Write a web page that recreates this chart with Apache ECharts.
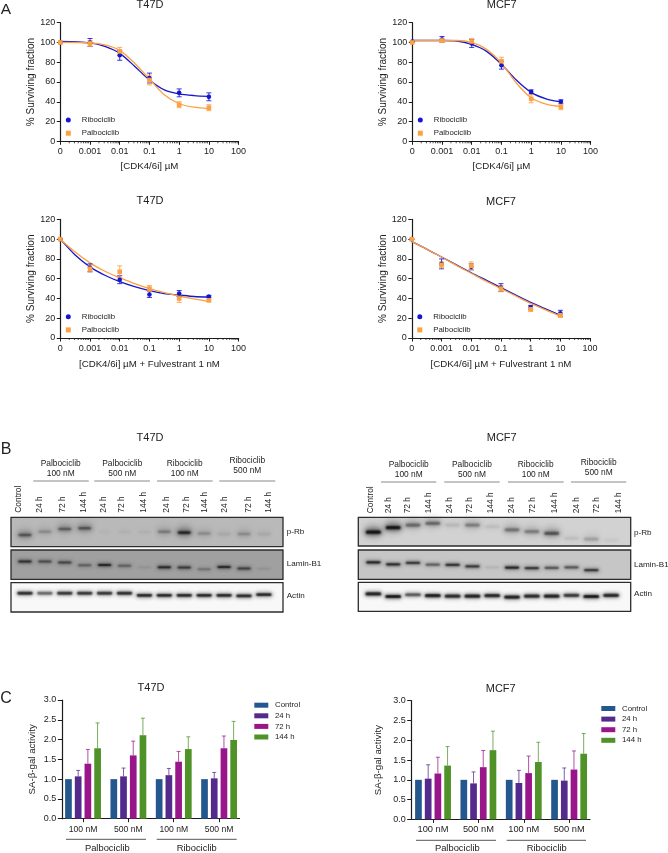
<!DOCTYPE html>
<html><head><meta charset="utf-8">
<style>html,body{margin:0;padding:0;background:#fff}#c{width:668px;height:853px}</style>
<script src="https://cdn.jsdelivr.net/npm/echarts@6/dist/echarts.min.js"></script>
</head><body><div id="c"></div>
<script>
// ---------- Panel A data ----------
const doseTicks = ["0","0.001","0.01","0.1","1","10","100"];
const pointDoses = [0.0001,0.001,0.01,0.1,1,10];
const fitDosesA = [0.0001,0.001,0.00316,0.01,0.0316,0.1,0.316,1,3.16,10];
const fitDosesF = [0.0001,0.000316,0.001,0.00316,0.01,0.0316,0.1,0.316,1,3.16,10];

const t47dRiboMean = [100,100,87,64,49,45];
const t47dRiboErr  = [0,4,5,5,4,4];
const t47dPalboMean= [100,99,91,62,37,34];
const t47dPalboErr = [0,3,4,5,3,3];
const t47dRiboFit  = [101,99.5,96,89,76,62,52,48,46.3,45.5];
const t47dPalboFit = [100,99.5,97.5,92,79,63,47,38,34.5,33];

const mcf7RiboMean = [101,103,99,77,50,40];
const mcf7RiboErr  = [0,3,4,4,2,2];
const mcf7PalboMean= [100,102,101,81,43,35];
const mcf7PalboErr = [0,2,3,4,4,3];
const mcf7RiboFit  = [102,102,101.5,98,91,78,62,49.5,43,40];
const mcf7PalboFit = [102,102,102,100,93,79,59,44,37.5,35];

const t47dFulvRiboMean = [100,71,59,44,45,42];
const t47dFulvRiboErr  = [0,4,4,3,3,1];
const t47dFulvPalboMean= [100,70,67,50,40,38];
const t47dFulvPalboErr = [0,3,6,3,4,1];
const t47dFulvRiboFit  = [100,84,72,63.5,57,52,48,45,43.5,42,41.5];
const t47dFulvPalboFit = [100,87,76,67.5,61,55,50,46,42.5,39.5,37];

const mcf7FulvRiboMean = [100,75,72,51,31,25];
const mcf7FulvRiboErr  = [0,5,3,4,2,3];
const mcf7FulvPalboMean= [100,74,73,50,29,23];
const mcf7FulvPalboErr = [0,3,4,3,2,2];
const mcf7FulvRiboFit  = [97.5,90,82,74,66,58.5,51,43.5,36,29.5,23];
const mcf7FulvPalboFit = [97.5,90,82,73.5,65.5,57.5,50,42.5,35,28.5,22];

// ---------- Panel B data: band darkness and vertical level per lane ----------
const laneLabels = ["Control","24 h","72 h","144 h","24 h","72 h","144 h","24 h","72 h","144 h","24 h","72 h","144 h"];
const lBlotPrbDark  = [.5,.2,.45,.5,.02,.03,.03,.28,.8,.2,.07,.2,.07];
const lBlotPrbLevel = [.40,.51,.60,.63,.5,.5,.5,.51,.48,.45,.43,.43,.43];
const lBlotLamDark  = [.88,.62,.68,.45,.97,.45,.08,.92,.78,.3,.92,.72,.08];
const lBlotLamLevel = [.61,.61,.57,.48,.49,.46,.41,.41,.40,.34,.42,.37,.36];
const lBlotActDark  = [.85,.55,.8,.8,.8,.85,.9,.9,.9,.9,.9,.9,.9];
const lBlotActLevel = [.64,.64,.64,.64,.64,.64,.57,.57,.57,.57,.57,.55,.59];
const rBlotPrbDark  = [.95,.9,.4,.4,.08,.3,.06,.35,.3,.5,.06,.16,.03];
const rBlotPrbLevel = [.48,.64,.73,.79,.73,.73,.67,.56,.5,.44,.27,.24,.2];
const rBlotLamDark  = [.95,.9,.8,.55,.85,.8,.08,.95,.8,.6,.6,.8,0];
const rBlotLamLevel = [.58,.51,.56,.5,.49,.44,.41,.4,.38,.39,.41,.31,.32];
const rBlotActDark  = [.9,.95,.6,.9,.85,.9,.85,.9,.85,.9,.75,.95,.85];
const rBlotActLevel = [.6,.51,.57,.54,.52,.52,.54,.49,.52,.52,.55,.51,.55];

// ---------- Panel C data ----------
const groupLabels = ["100 nM","500 nM","100 nM","500 nM"];
const timeLabels = ["Control","24 h","72 h","144 h"];
const tControl = [1,1,1,1];
const t24 = [1.07,1.07,1.10,1.02];
const t72 = [1.39,1.60,1.44,1.78];
const t144= [1.78,2.11,1.76,1.99];
const t24Top = [1.22,1.28,1.27,1.17];
const t72Top = [1.75,1.96,1.70,2.09];
const t144Top= [2.42,2.54,2.07,2.46];
const mControl = [1,1,1,1];
const m24 = [1.03,0.91,0.92,0.98];
const m72 = [1.16,1.32,1.17,1.26];
const m144= [1.36,1.75,1.45,1.66];
const m24Top = [1.38,1.20,1.24,1.30];
const m72Top = [1.57,1.74,1.60,1.73];
const m144Top= [1.84,2.23,1.95,2.17];

// ---------- Styling ----------
const FONT = '"Liberation Sans",Arial,sans-serif';
const BLUE = '#1616cf', ORANGE = '#fba144', INK = '#1c1c1c';
const TIME_COLORS = ['#25578f','#542a8c','#99168a','#4f9228'];

const grids=[], xAxes=[], yAxes=[], series=[], legends=[], graphics=[];
function text(x,y,t,size,extra){
  graphics.push(Object.assign({type:'text',x,y,silent:true,
    style:{text:t,font:size+'px '+FONT,fill:'#222',textAlign:'center',textVerticalAlign:'middle'}},extra||{}));
}
function rule(x1,x2,y,color,w){
  graphics.push({type:'line',silent:true,shape:{x1,y1:y,x2,y2:y},style:{stroke:color||'#333',lineWidth:w||1}});
}

// Minor log ticks along the x axis
const minorDoses=[];
for(const d of [0.0001,0.001,0.01,0.1,1,10]) for(const m of [2,3,4,5,6,7,8,9]) minorDoses.push(d*m);

function curvePanel(o){
  const g=grids.length;
  grids.push({left:o.left,top:o.top,width:178.3,height:118.6,containLabel:false});
  xAxes.push({type:'log',logBase:10,gridIndex:g,min:0.0001,max:100,
    name:o.xName,nameLocation:'middle',nameGap:o.xGap,
    nameTextStyle:{fontFamily:FONT,fontSize:9.7,color:'#222'},
    axisLine:{onZero:false,lineStyle:{color:INK,width:1.2}},
    axisTick:{length:3.5,lineStyle:{color:INK,width:1}},
    axisLabel:{margin:6,fontFamily:FONT,fontSize:9,color:'#222',showMinLabel:true,showMaxLabel:true,
      formatter:v=>doseTicks[Math.round(Math.log10(v))+4]},
    minorTick:{show:false},splitLine:{show:false},minorSplitLine:{show:false}});
  yAxes.push({type:'value',gridIndex:g,min:0,max:120,interval:20,
    name:'% Surviving fraction',nameLocation:'middle',nameGap:23.5,
    nameTextStyle:{fontFamily:FONT,fontSize:10,color:'#222'},
    axisLine:{show:true,onZero:false,lineStyle:{color:INK,width:1.2}},
    axisTick:{show:true,length:3.5,lineStyle:{color:INK,width:1}},
    axisLabel:{margin:5,fontFamily:FONT,fontSize:9,color:'#222'},splitLine:{show:false}});
  const base={xAxisIndex:g,yAxisIndex:g,silent:true};
  series.push(Object.assign({},base,{type:'custom',name:'minor',clip:false,data:minorDoses.map(d=>[d]),
    renderItem:(p,api)=>{const c=api.coord([api.value(0),0]);
      return {type:'line',shape:{x1:c[0],y1:c[1],x2:c[0],y2:c[1]+2},style:{stroke:INK,lineWidth:.8}};}}));
  const add=(name,color,fit,mean,err,sym,doses)=>{
    series.push(Object.assign({},base,{type:'line',name:name+' fit',data:doses.map((d,i)=>[d,fit[i]]),
      smooth:.3,showSymbol:false,symbol:'none',lineStyle:{color,width:1.3},z:3}));
    series.push(Object.assign({},base,{type:'custom',name:name+' err',
      data:pointDoses.map((d,i)=>[d,mean[i]-err[i],mean[i]+err[i]]),z:4,
      renderItem:(p,api)=>{
        const a=api.coord([api.value(0),api.value(1)]),b=api.coord([api.value(0),api.value(2)]);
        const st={stroke:color,lineWidth:1,opacity:.85};
        return {type:'group',children:[
          {type:'line',shape:{x1:a[0],y1:a[1],x2:b[0],y2:b[1]},style:st},
          {type:'line',shape:{x1:a[0]-2.5,y1:a[1],x2:a[0]+2.5,y2:a[1]},style:st},
          {type:'line',shape:{x1:b[0]-2.5,y1:b[1],x2:b[0]+2.5,y2:b[1]},style:st}]};}}));
    series.push(Object.assign({},base,{type:'scatter',name,symbol:sym,symbolSize:4.6,
      data:pointDoses.map((d,i)=>[d,mean[i]]),itemStyle:{color,opacity:1},z:5}));
  };
  add('Ribociclib',BLUE,o.rf,o.rm,o.re,'circle',o.doses);
  add('Palbociclib',ORANGE,o.pf,o.pm,o.pe,'rect',o.doses);
  legends.push({orient:'vertical',left:o.left+5.5,top:o.top+93.3,padding:0,itemGap:5.2,itemWidth:5,itemHeight:5,
    selectedMode:false,textStyle:{fontFamily:FONT,fontSize:7.8,color:'#222',padding:[0,0,0,6]},
    data:[{name:'Ribociclib',icon:'circle'},{name:'Palbociclib',icon:'rect'}]});
}
curvePanel({left:60.3,top:22.7,xGap:20.5,xName:'[CDK4/6i] \u00b5M',doses:fitDosesA,rf:t47dRiboFit,pf:t47dPalboFit,rm:t47dRiboMean,re:t47dRiboErr,pm:t47dPalboMean,pe:t47dPalboErr});
curvePanel({left:412.3,top:22.7,xGap:20.5,xName:'[CDK4/6i] \u00b5M',doses:fitDosesA,rf:mcf7RiboFit,pf:mcf7PalboFit,rm:mcf7RiboMean,re:mcf7RiboErr,pm:mcf7PalboMean,pe:mcf7PalboErr});
curvePanel({left:60.3,top:219.4,xGap:21.8,xName:'[CDK4/6i] \u00b5M + Fulvestrant 1 nM',doses:fitDosesF,rf:t47dFulvRiboFit,pf:t47dFulvPalboFit,rm:t47dFulvRiboMean,re:t47dFulvRiboErr,pm:t47dFulvPalboMean,pe:t47dFulvPalboErr});
curvePanel({left:411.8,top:219.4,xGap:21.8,xName:'[CDK4/6i] \u00b5M + Fulvestrant 1 nM',doses:fitDosesF,rf:mcf7FulvRiboFit,pf:mcf7FulvPalboFit,rm:mcf7FulvRiboMean,re:mcf7FulvRiboErr,pm:mcf7FulvPalboMean,pe:mcf7FulvPalboErr});

// ---------- Panel B: blots (soft bands: the blurred shadow of an off-canvas rect) ----------
const OFF=3000;
function blob(cx,cy,w,h,blur,alpha){
  return {type:'rect',shape:{x:cx-w/2-OFF,y:cy-h/2,width:w,height:h,r:h/2},
    style:{fill:'#000',shadowBlur:blur,shadowOffsetX:OFF,shadowColor:'rgba(8,8,8,'+alpha+')'}};
}
function blot(o){
  const g=grids.length;
  grids.push({left:o.left,top:o.top,width:o.width,height:o.height,show:true,backgroundColor:o.bg,borderColor:'#2c2c2c',borderWidth:1.3});
  xAxes.push({type:'value',gridIndex:g,min:o.xMin,max:o.xMax,show:false});
  yAxes.push({type:'value',gridIndex:g,min:0,max:1,show:false});
  series.push({type:'custom',name:o.name,xAxisIndex:g,yAxisIndex:g,silent:true,clip:false,
    data:o.dark.map((d,i)=>[i,o.level[i],d]),
    renderItem:(p,api)=>{
      const c=api.coord([api.value(0),api.value(1)]),d=api.value(2);
      const w=o.bandW,h=o.bandH,kids=[];
      if(d<=0) return {type:'group',children:[]};
      if(o.smear) kids.push(blob(c[0],c[1]-o.smear*.1,w,o.smear,7,d*.35));
      kids.push(blob(c[0],c[1],w,h*1.5,4,d*.5));
      kids.push(blob(c[0],c[1],w-2,h,1.8,d));
      return {type:'group',children:kids};
    }});
}
const L={left:11,width:272,xMin:-.7,xMax:12.96};
const R={left:358.3,width:272.4,xMin:-.76,xMax:12.99};
blot(Object.assign({},L,{name:'L p-Rb',top:517.3,height:29.4,bg:'#b9b9b9',dark:lBlotPrbDark,level:lBlotPrbLevel,bandW:15,bandH:2.6,smear:10}));
blot(Object.assign({},L,{name:'L Lamin-B1',top:550,height:29.3,bg:'#a0a0a0',dark:lBlotLamDark,level:lBlotLamLevel,bandW:15.5,bandH:2}));
blot(Object.assign({},L,{name:'L Actin',top:582.7,height:29.3,bg:'#f8f8f8',dark:lBlotActDark,level:lBlotActLevel,bandW:17.5,bandH:2.8}));
blot(Object.assign({},R,{name:'R p-Rb',top:517.3,height:28.7,bg:'#d2d2d2',dark:rBlotPrbDark,level:rBlotPrbLevel,bandW:17,bandH:3.2,smear:11}));
blot(Object.assign({},R,{name:'R Lamin-B1',top:550,height:29.3,bg:'#c6c6c6',dark:rBlotLamDark,level:rBlotLamLevel,bandW:16.5,bandH:2.2}));
blot(Object.assign({},R,{name:'R Actin',top:582.3,height:29,bg:'#f8f8f8',dark:rBlotActDark,level:rBlotActLevel,bandW:18,bandH:3.2}));

// ---------- Panel C: bars ----------
const BAR_STEP=9.7;
function barPanel(o){
  const g=grids.length;
  grids.push({left:o.left,top:o.top,width:o.width,height:118.7});
  xAxes.push({type:'value',gridIndex:g,min:o.xMin,max:o.xMax,
    axisLine:{onZero:false,lineStyle:{color:INK,width:1.2}},
    axisTick:{length:3.5,customValues:[1,2,3,4],lineStyle:{color:INK,width:1}},
    axisLabel:{margin:6,customValues:[1,2,3,4],fontFamily:FONT,fontSize:o.xFont,color:'#222',formatter:v=>groupLabels[v-1]},
    splitLine:{show:false}});
  yAxes.push({type:'value',gridIndex:g,min:0,max:3,interval:.5,
    name:'SA-\u03b2-gal activity',nameLocation:'middle',nameGap:o.nameGap,
    nameTextStyle:{fontFamily:FONT,fontSize:9.7,color:'#222'},
    axisLine:{show:true,onZero:false,lineStyle:{color:INK,width:1.2}},
    axisTick:{show:true,length:4.5,lineStyle:{color:INK,width:1}},
    axisLabel:{margin:6,fontFamily:FONT,fontSize:9,color:'#222',formatter:v=>v.toFixed(1)},splitLine:{show:false}});
  o.vals.forEach((vals,j)=>{
    series.push({type:'bar',name:timeLabels[j],xAxisIndex:g,yAxisIndex:g,silent:true,barWidth:6.7,barGap:'45%',
      data:vals.map((v,i)=>[i+1,v]),itemStyle:{color:TIME_COLORS[j]}});
    if(!o.tops[j]) return;
    series.push({type:'custom',name:timeLabels[j]+' err',xAxisIndex:g,yAxisIndex:g,silent:true,z:1,
      data:vals.map((v,i)=>[i+1,v,o.tops[j][i]]),
      renderItem:(p,api)=>{
        const a=api.coord([api.value(0),api.value(1)]),b=api.coord([api.value(0),api.value(2)]);
        const x=a[0]+(j-1.5)*BAR_STEP,st={stroke:TIME_COLORS[j],lineWidth:1,opacity:.75};
        return {type:'group',children:[
          {type:'line',shape:{x1:x,y1:a[1],x2:x,y2:b[1]},style:st},
          {type:'line',shape:{x1:x-2,y1:b[1],x2:x+2,y2:b[1]},style:st}]};}});
  });
  legends.push({orient:'vertical',left:o.legLeft,top:o.legTop,padding:0,itemGap:2.6,itemWidth:14,itemHeight:5,
    selectedMode:false,textStyle:{fontFamily:FONT,fontSize:7.8,color:'#222',padding:[0,0,0,1.7]},
    data:timeLabels.map(n=>({name:n,icon:'rect'}))});
}
barPanel({left:62.3,width:177.2,top:700,xMin:.543,xMax:4.45,xFont:8.6,nameGap:25,legLeft:254.3,legTop:701.2,
  vals:[tControl,t24,t72,t144],tops:[null,t24Top,t72Top,t144Top]});
barPanel({left:411.7,width:178.3,top:700.7,xMin:.53,xMax:4.46,xFont:9.3,nameGap:28.4,legLeft:601.3,legTop:704.5,
  vals:[mControl,m24,m72,m144],tops:[null,m24Top,m72Top,m144Top]});

// ---------- Text, rules ----------
text(6,10,'A',15.5); text(6,450,'B',16); text(6,699,'C',16);
[[150,5],[150,201],[150,437.7],[151,688]].forEach(p=>text(p[0],p[1],'T47D',11));
[[501.7,5],[501,202],[501.7,437.7],[500.7,688.7]].forEach(p=>text(p[0],p[1],'MCF7',11));

const leftHead=[[60.7,463.7,'Palbociclib','100 nM'],[122.3,463.7,'Palbociclib','500 nM'],[184.7,463.7,'Ribociclib','100 nM'],[247.3,461,'Ribociclib','500 nM']];
const rightHead=[[408.7,465,'Palbociclib','100 nM'],[472,465,'Palbociclib','500 nM'],[535.7,465,'Ribociclib','100 nM'],[598.7,462.3,'Ribociclib','500 nM']];
leftHead.concat(rightHead).forEach(h=>{text(h[0],h[1],h[2],8.4);text(h[0],h[1]+10,h[3],8.4);});
[[33.3,88.7],[94.3,150],[157,212.7],[219.3,275.3]].forEach(s=>rule(s[0],s[1],481,'#888',1));
[[381,436.3],[444.3,499.7],[508,563.7],[571,626.3]].forEach(s=>rule(s[0],s[1],482,'#888',1));
const lLaneX=[19,39.3,62.3,83.3,103.3,121.7,143.3,166.3,186.7,205,225,248.3,268.3];
const rLaneX=[370.7,389,408,428.3,450,470,490.7,511.7,533,554.7,576.7,597,619];
laneLabels.forEach((t,i)=>{
  graphics.push({type:'text',x:lLaneX[i],y:512.7,rotation:Math.PI/2,silent:true,style:{text:t,font:'8.4px '+FONT,fill:'#222',textAlign:'left',textVerticalAlign:'middle'}});
  graphics.push({type:'text',x:rLaneX[i],y:513.3,rotation:Math.PI/2,silent:true,style:{text:t,font:'8.4px '+FONT,fill:'#222',textAlign:'left',textVerticalAlign:'middle'}});
});
[['p-Rb',532],['Lamin-B1',564],['Actin',596]].forEach(r=>text(286.7,r[1],r[0],8.1,{style:{text:r[0],font:'8.1px '+FONT,fill:'#222',textAlign:'left',textVerticalAlign:'middle'}}));
[['p-Rb',532.7],['Lamin-B1',565],['Actin',594]].forEach(r=>text(634,r[1],r[0],8.1,{style:{text:r[0],font:'8.1px '+FONT,fill:'#222',textAlign:'left',textVerticalAlign:'middle'}}));

[[66,146],[156.7,236.7]].forEach(s=>rule(s[0],s[1],839.3,'#444',.9));
[[416,496],[506.7,586]].forEach(s=>rule(s[0],s[1],840.3,'#444',.9));
[[107.3,'Palbociclib'],[196.7,'Ribociclib'],[457.3,'Palbociclib'],[546.7,'Ribociclib']].forEach(p=>text(p[0],848.7,p[1],9.4));

const chart=echarts.init(document.getElementById('c'),null,{renderer:'canvas',width:668,height:853});
chart.setOption({backgroundColor:'#fff',animation:false,textStyle:{fontFamily:FONT},
  grid:grids,xAxis:xAxes,yAxis:yAxes,series,legend:legends,graphic:{elements:graphics}});
</script></body></html>
